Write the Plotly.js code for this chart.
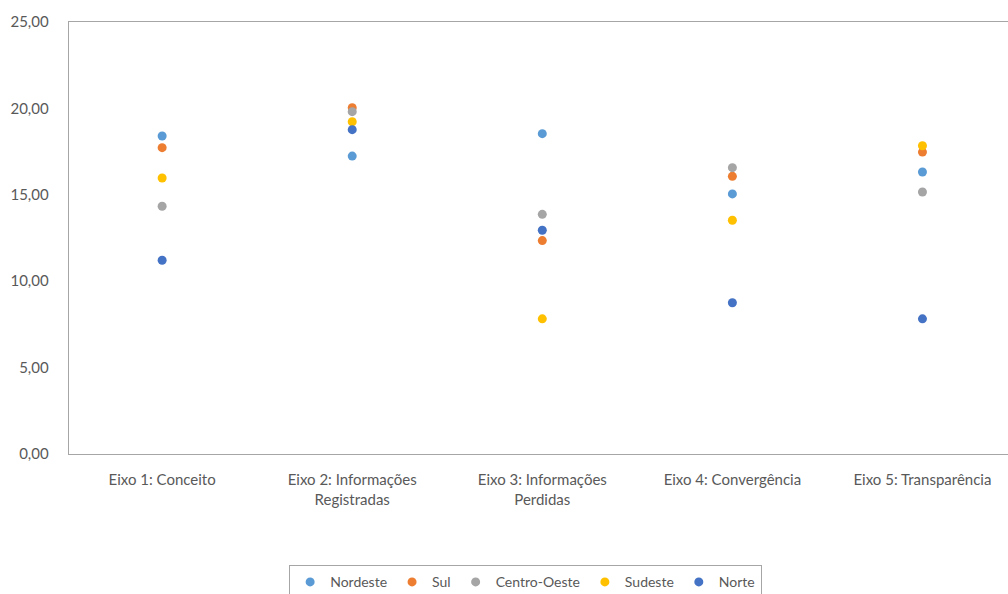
<!DOCTYPE html>
<html>
<head>
<meta charset="utf-8">
<script src="https://cdn.plot.ly/plotly-3.0.1.min.js"></script>
<style>html,body{margin:0;padding:0;background:#fff;overflow:hidden}#chart{width:1008px;height:594px}</style>
</head>
<body>
<div id="chart"></div>
<script>
const categories = ["Eixo 1: Conceito", "Eixo 2: Informações<br>Registradas", "Eixo 3: Informações<br>Perdidas", "Eixo 4: Convergência", "Eixo 5: Transparência"];
const seriesNames = ["Nordeste", "Sul", "Centro-Oeste", "Sudeste", "Norte"];
const nordeste = [18.40, 17.24, 18.54, 15.05, 16.32];
const sul = [17.73, 20.04, 12.35, 16.07, 17.47];
const centroOeste = [14.34, 19.81, 13.87, 16.57, 15.16];
const sudeste = [15.97, 19.23, 7.82, 13.53, 17.84];
const norte = [11.21, 18.77, 12.95, 8.75, 7.82];
const colors = ["#5B9BD5", "#ED7D31", "#A5A5A5", "#FFC000", "#4472C4"];
const values = [nordeste, sul, centroOeste, sudeste, norte];

const xIdx = categories.map((c, i) => i);
const traces = seriesNames.map((n, k) => ({
  type: "scatter", mode: "markers", name: n,
  x: xIdx, y: values[k],
  marker: {color: colors[k], size: 9},
  hoverinfo: "y+name"
}));

const font = "Lato, 'Open Sans', sans-serif";
const layout = {
  width: 1008, height: 594,
  margin: {l: 69, r: 0, t: 22, b: 140, autoexpand: false},
  paper_bgcolor: "#fff", plot_bgcolor: "#fff",
  separators: ",.",
  font: {family: font, size: 15, color: "#595959"},
  xaxis: {
    range: [-0.49, 4.45], tickmode: "array", tickvals: xIdx, ticktext: categories,
    showgrid: false, zeroline: false, showline: true, mirror: true,
    linecolor: "#A6A6A6", linewidth: 1.3, ticks: "", ticklabelstandoff: 12,
    tickfont: {family: font, size: 15, color: "#595959"}, fixedrange: true
  },
  yaxis: {
    range: [0, 25], dtick: 5, tickformat: ".2f",
    showgrid: false, zeroline: false, showline: true, mirror: false,
    linecolor: "#A6A6A6", linewidth: 1.3, ticks: "", ticklabelstandoff: 16,
    tickfont: {family: font, size: 15, color: "#595959"}, fixedrange: true
  },
  showlegend: true,
  legend: {
    orientation: "h", x: 0.486, xanchor: "center", y: -0.257, yanchor: "top",
    bordercolor: "#A6A6A6", borderwidth: 1.3,
    font: {family: font, size: 14, color: "#595959"},
    itemwidth: 30, tracegroupgap: 0
  }
};
Plotly.newPlot("chart", traces, layout, {displayModeBar: false, staticPlot: true});
</script>
</body>
</html>
